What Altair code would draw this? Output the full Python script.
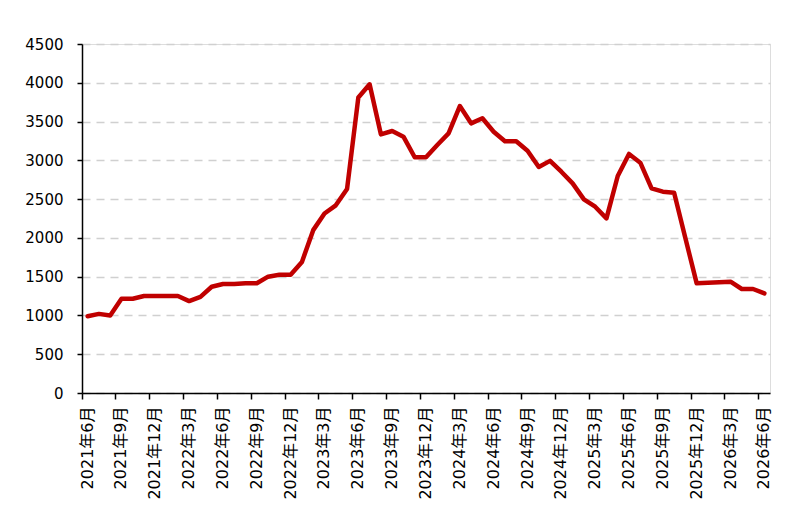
import altair as alt
import pandas as pd

years_months = [(2021 + (5 + i) // 12, (5 + i) % 12 + 1) for i in range(61)]
months = [f"{y}年{m}月" for y, m in years_months]

values = [
    990, 1020, 1000, 1215, 1215, 1250, 1250, 1250, 1250, 1185,
    1240, 1370, 1405, 1405, 1415, 1415, 1500, 1525, 1525, 1690,
    2100, 2315, 2420, 2630, 3810, 3980, 3335, 3378, 3305, 3040,
    3040, 3198, 3348, 3700, 3477, 3542, 3369, 3245, 3245, 3124,
    2915, 2993, 2853, 2703, 2497, 2402, 2252, 2798, 3082, 2970,
    2639, 2596, 2583, 1995, 1414, 1420, 1427, 1435, 1341, 1341,
    1285,
]

tick_labels = months[::3]
y_ticks = list(range(0, 4501, 500))

df = pd.DataFrame({"month": months, "value": values})

FONT = "DejaVu Sans, Noto Sans CJK SC"

chart = (
    alt.Chart(df)
    .mark_line(color="#C00000", strokeWidth=4.5, strokeJoin="round", strokeCap="round")
    .encode(
        x=alt.X(
            "month:O",
            sort=months,
            bandPosition=0.5,
            scale=alt.Scale(type="band", paddingInner=0, paddingOuter=0),
            axis=alt.Axis(
                title=None,
                values=tick_labels,
                labelAngle=-90,
                labelAlign="right",
                labelBaseline="middle",
                labelFont=FONT,
                labelFontSize=16,
                labelColor="#000000",
                labelPadding=7,
                bandPosition=0,
                domainColor="#000000",
                domainWidth=1.5,
                tickColor="#000000",
                tickWidth=1.5,
                tickSize=6,
                grid=False,
                labelOverlap=False,
            ),
        ),
        y=alt.Y(
            "value:Q",
            scale=alt.Scale(domain=[0, 4500], nice=False),
            axis=alt.Axis(
                title=None,
                values=y_ticks,
                format="d",
                labelFont=FONT,
                labelFontSize=15,
                labelColor="#000000",
                labelPadding=14,
                domainColor="#000000",
                domainWidth=1.5,
                tickColor="#000000",
                tickWidth=1.5,
                tickSize=5,
                grid=True,
                gridColor="#D0D0D0",
                gridWidth=1.5,
                gridDash=[8, 6],
            ),
        ),
    )
    .properties(
        width=688,
        height=349,
        padding={"left": 74, "top": 36, "right": 16, "bottom": 110},
        autosize=alt.AutoSizeParams(type="none"),
    )
    .configure_view(stroke=None)
    .configure(background="white")
)

chart.save("out.html", embed_options={"renderer": "svg", "actions": False})
